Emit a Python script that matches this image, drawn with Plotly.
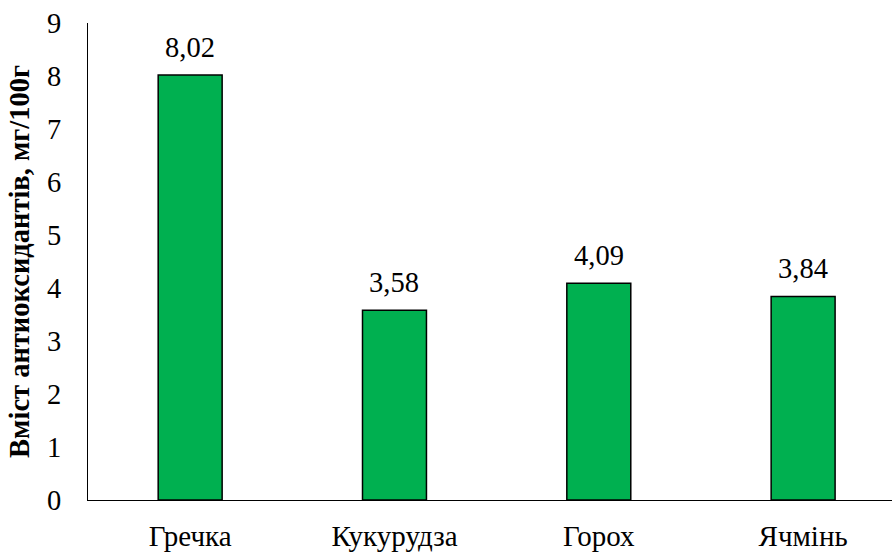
import plotly.graph_objects as go

categories = ["Гречка", "Кукурудза", "Горох", "Ячмінь"]
values = [8.02, 3.58, 4.09, 3.84]
labels = [f"{v:.2f}".replace(".", ",") for v in values]
y_title = "Вміст антиоксидантів, мг/100г"

FONT = "Liberation Serif"
FS = 28.5

fig = go.Figure(go.Bar(
    x=list(range(len(categories))),
    y=values,
    width=0.313,
    marker=dict(color="#00B050", line=dict(color="black", width=1.5)),
))

for i, (v, t) in enumerate(zip(values, labels)):
    fig.add_annotation(x=i, y=v, text=t, showarrow=False, yanchor="bottom",
                       yshift=10, font=dict(family=FONT, size=FS, color="black"))

fig.update_layout(
    width=892, height=552,
    margin=dict(l=88, r=0, t=23, b=52),
    plot_bgcolor="white", paper_bgcolor="white",
    showlegend=False,
    font=dict(family=FONT, size=FS, color="black"),
)
fig.update_xaxes(
    tickmode="array",
    tickvals=list(range(len(categories))),
    ticktext=categories,
    range=[-0.5, 3.435],
    showline=True, linecolor="black", linewidth=1.3,
    showgrid=False, zeroline=False, ticks="",
    ticklabelstandoff=10,
    tickfont=dict(family=FONT, size=29, color="black"),
)
fig.update_yaxes(
    range=[0, 9], dtick=1,
    showline=True, linecolor="black", linewidth=1.3,
    showgrid=False, zeroline=False, ticks="",
    ticklabelstandoff=20,
    tickfont=dict(family=FONT, size=FS, color="black"),
    title=dict(text="<b>" + y_title + "</b>", standoff=8,
               font=dict(family=FONT, size=FS, color="black")),
)

fig.write_html("out.html")
